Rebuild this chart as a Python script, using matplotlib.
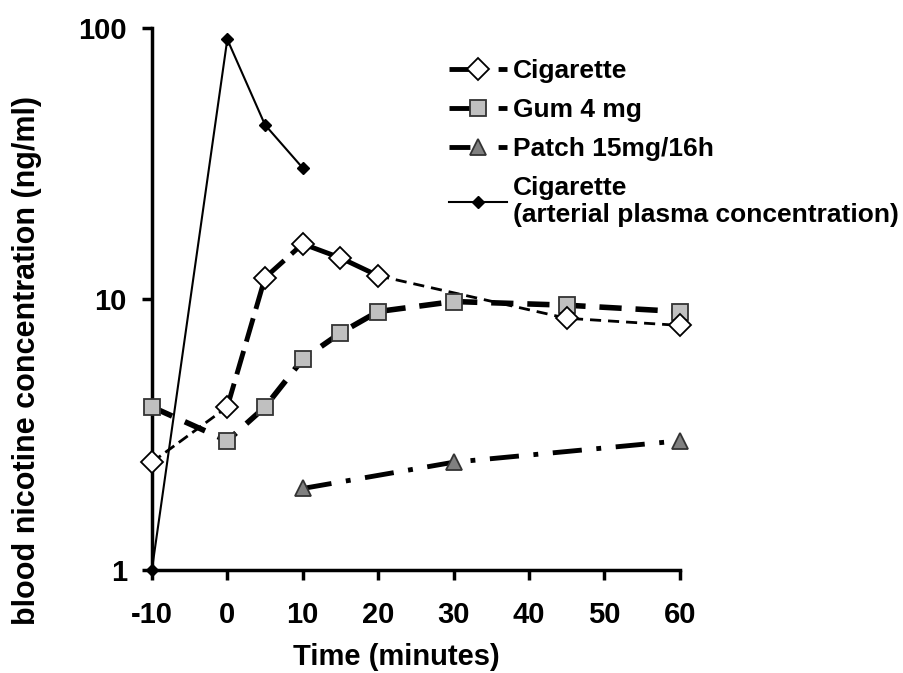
import matplotlib
matplotlib.use("Agg")
import matplotlib.pyplot as plt
from matplotlib.lines import Line2D
from matplotlib.ticker import NullLocator

plt.rcParams['font.family'] = ['Liberation Sans', 'DejaVu Sans']
plt.rcParams['font.weight'] = 'bold'

# Data
cig_t = [-10, 0, 5, 10, 15, 20, 45, 60]
cig_v = [2.5, 4.0, 12.0, 16.0, 14.2, 12.2, 8.5, 8.0]
gum_t = [-10, 0, 5, 10, 15, 20, 30, 45, 60]
gum_v = [4.0, 3.0, 4.0, 6.0, 7.5, 9.0, 9.8, 9.5, 9.0]
patch_t = [10, 30, 60]
patch_v = [2.0, 2.5, 3.0]
art_t = [-10, 0, 5, 10]
art_v = [1.0, 91.0, 44.0, 30.5]

xticks = [-10, 0, 10, 20, 30, 40, 50, 60]
yticks = [1, 10, 100]
ytick_labels = ['1', '10', '100']

fig = plt.figure(figsize=(9.04, 6.73), dpi=100)
ax = fig.add_axes([0.168, 0.153, 0.584, 0.805])

# Arterial
ax.plot(art_t, art_v, color='black', lw=1.5, marker='D', ms=6,
        mfc='black', mec='black', zorder=5, clip_on=False)

# Cigarette venous, drawn in segments with varying styles
ax.plot(cig_t[0:2], cig_v[0:2], color='black', lw=2, ls=(0, (4, 2)), zorder=3, clip_on=False)
ax.plot(cig_t[1:4], cig_v[1:4], color='black', lw=3.5, ls=(0, (5, 2)), zorder=3, clip_on=False)
ax.plot(cig_t[3:6], cig_v[3:6], color='black', lw=3.5, ls=(0, (8, 1)), zorder=3, clip_on=False)
ax.plot(cig_t[5:], cig_v[5:], color='black', lw=2, ls=(0, (4, 2.5)), zorder=3, clip_on=False)
ax.plot(cig_t, cig_v, ls='none', marker='D', ms=11, mfc='white',
        mec='black', mew=1.3, zorder=6, clip_on=False)

# Gum
ax.plot(gum_t, gum_v, color='black', lw=4, ls=(0, (4, 2.5)),
        marker='s', ms=12, mfc='#c0c0c0', mec='#333333', mew=1.3, zorder=4,
        clip_on=False)

# Patch
ax.plot(patch_t, patch_v, color='black', lw=3.5, ls=(0, (6, 3, 1, 3)),
        marker='^', ms=12, mfc='#808080', mec='#333333', mew=1.3, zorder=4,
        clip_on=False)

ax.set_yscale('log')
ax.set_xlim(-10, 60)
ax.set_ylim(1, 100)
ax.set_xticks(xticks)
ax.set_xticklabels([str(t) for t in xticks])
ax.set_yticks(yticks)
ax.set_yticklabels(ytick_labels)
ax.yaxis.set_minor_locator(NullLocator())
ax.tick_params(axis='both', which='major', direction='out', length=7, width=2.5,
               labelsize=21)
ax.tick_params(axis='x', pad=15)
ax.tick_params(axis='y', pad=11)
for s in ['top', 'right']:
    ax.spines[s].set_visible(False)
for s in ['left', 'bottom']:
    ax.spines[s].set_linewidth(2.5)
for lab in ax.get_xticklabels() + ax.get_yticklabels():
    lab.set_fontweight('bold')

ax.set_xlabel('Time (minutes)', fontsize=21, fontweight='bold')
ax.xaxis.set_label_coords(0.464, -0.135)
ax.set_ylabel('blood nicotine concentration (ng/ml)', fontsize=22,
              fontweight='bold')
ax.yaxis.set_label_coords(-0.208, 0.387)

leg_ls = (0, (4.3, 5.8, 1.9, 10))
handles = [
    Line2D([], [], color='black', lw=3.5, ls=leg_ls, marker='D', ms=11,
           mfc='white', mec='black', mew=1.3),
    Line2D([], [], color='black', lw=3.5, ls=leg_ls, marker='s', ms=12,
           mfc='#c0c0c0', mec='#333333', mew=1.3),
    Line2D([], [], color='black', lw=3.5, ls=leg_ls, marker='^', ms=12,
           mfc='#808080', mec='#333333', mew=1.3),
    Line2D([], [], color='black', lw=1.5, marker='D', ms=6, mfc='black'),
]
labels = ['Cigarette', 'Gum 4 mg', 'Patch 15mg/16h',
          'Cigarette\n(arterial plasma concentration)']
leg = fig.legend(handles, labels, loc='upper left', bbox_to_anchor=(0.485, 0.9275),
                 bbox_transform=fig.transFigure, frameon=False,
                 handlelength=2.2, handletextpad=0.23, borderaxespad=0,
                 labelspacing=0.56, prop={'weight': 'bold', 'size': 19})
fig.savefig('out.png', dpi=100)
